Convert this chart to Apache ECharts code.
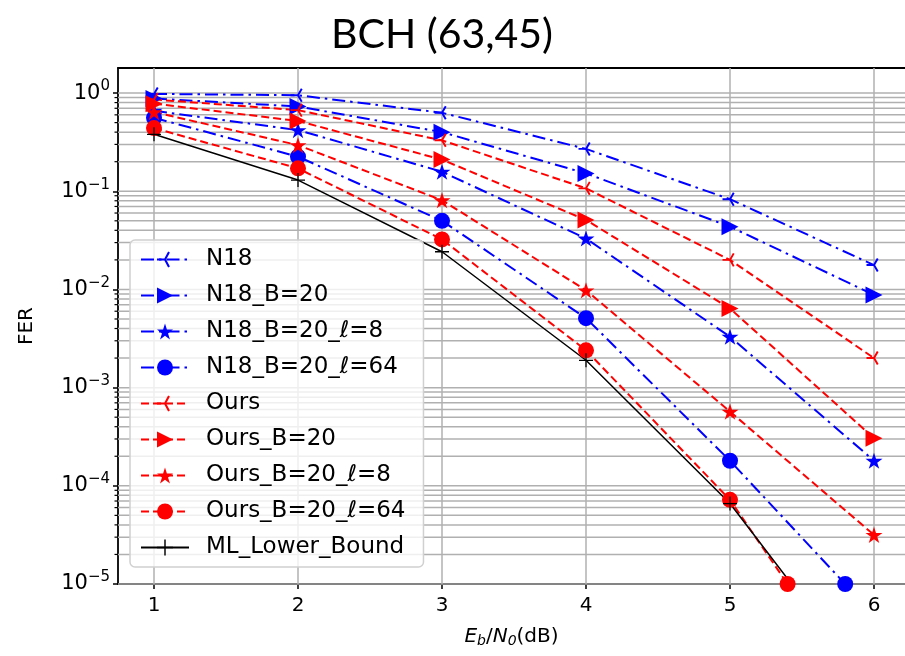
<!DOCTYPE html>
<html>
<head>
<meta charset="utf-8">
<script src="https://cdn.jsdelivr.net/npm/echarts@6/dist/echarts.min.js"></script>
<style>
  html, body { margin: 0; padding: 0; background: #fff; }
  #chart { width: 905px; height: 656px; }
</style>
</head>
<body>
<div id="chart"></div>
<script>
// Eb/N0 sweep (dB)
const ebn0 = [1, 2, 3, 4, 5, 6];
// curves that reach the FER floor early end at their last simulated point
const ebn0L64N18 = [1, 2, 3, 4, 5, 5.8];
const ebn0L64Ours = [1, 2, 3, 4, 5, 5.4];

// frame error rates
const n18 = [0.98, 0.95, 0.63, 0.27, 0.083, 0.0177];
const n18B20 = [0.88, 0.73, 0.40, 0.152, 0.0436, 0.0088];
const n18B20L8 = [0.66, 0.42, 0.158, 0.033, 0.0033, 0.00018];
const n18B20L64 = [0.56, 0.225, 0.050, 0.0051, 0.00018, 0.00001];
const ours = [0.86, 0.67, 0.33, 0.107, 0.020, 0.0020];
const oursB20 = [0.78, 0.52, 0.21, 0.051, 0.0064, 0.000305];
const oursB20L8 = [0.64, 0.295, 0.081, 0.0098, 0.00057, 0.0000316];
const oursB20L64 = [0.44, 0.171, 0.0323, 0.0024, 0.000072, 0.00001];
const mlLowerBound = [0.38, 0.13, 0.0242, 0.0019, 0.000066, 0.0000008];

// axis ticks
const xTicks = [1, 2, 3, 4, 5, 6];
const yMajorTicks = [1e-5, 1e-4, 1e-3, 1e-2, 1e-1, 1];
const yMinorTicks = [];
for (let d = -5; d <= -1; d++) {
  for (let m = 2; m <= 9; m++) yMinorTicks.push(m * Math.pow(10, d));
}

const BLUE = '#0000ff';
const RED = '#ff0000';
const GRID = '#b0b0b0';
const FONT = 'DejaVu Sans';

// marker shapes (20x20 design box, centred at 10,10)
function polyPath(pts) {
  return 'M' + pts.map(p => p[0].toFixed(2) + ' ' + p[1].toFixed(2)).join(' L') + ' Z';
}
function starPath() {
  const pts = [];
  for (let i = 0; i < 10; i++) {
    const r = i % 2 === 0 ? 10 : 3.82;
    const a = -Math.PI / 2 + i * Math.PI / 5;
    pts.push([10 + r * Math.cos(a), 10 + r * Math.sin(a)]);
  }
  return 'path://' + polyPath(pts);
}
function spoke(angleDeg, len, half) {
  const a = angleDeg * Math.PI / 180;
  const dx = Math.cos(a), dy = -Math.sin(a);
  const nx = -dy * half, ny = dx * half;
  const ex = 10 + dx * len, ey = 10 + dy * len;
  return polyPath([[10 + nx, 10 + ny], [ex + nx, ey + ny], [ex - nx, ey - ny], [10 - nx, 10 - ny]]);
}
function triLeftPath() {
  const h = 1.3;
  return 'path://' + spoke(180, 10, h) + ' ' + spoke(60, 10, h) + ' ' + spoke(-60, 10, h) +
    ' M19.95 9.95 L20 9.95 L20 10.05 L19.95 10.05 Z';
}
function plusPath() {
  return 'path://M9.1 0 L10.9 0 L10.9 20 L9.1 20 Z M0 9.1 L20 9.1 L20 10.9 L0 10.9 Z';
}
const STAR = starPath();
const TRI = triLeftPath();
const PLUS = plusPath();

const DASHDOT = [13, 5, 2.5, 5];
const DASHED = [8, 4];

function pairs(xs, ys) { return xs.map((x, i) => [x, ys[i]]); }

function curve(name, xs, ys, color, dash, symbol, size, rotate) {
  return {
    name: name,
    type: 'line',
    data: pairs(xs, ys),
    symbol: symbol,
    symbolSize: size,
    symbolRotate: rotate || 0,
    symbolKeepAspect: true,
    showAllSymbol: true,
    clip: true,
    z: 3,
    lineStyle: { color: color, width: 2, type: dash },
    itemStyle: { color: color, borderWidth: 0 },
    emphasis: { disabled: true }
  };
}

const chart = echarts.init(document.getElementById('chart'), null, { renderer: 'canvas' });

const supMinus = e => (e < 0 ? '\u2212' + (-e) : '' + e);

// plot area runs from Eb/N0 = 0.75 to 6.25; the right part falls past the canvas edge
const X_MIN = 0.75;
const PX_PER_DB = 144;
const PLOT_LEFT = 118;
const PLOT_W = 905 - PLOT_LEFT;

chart.setOption({
  animation: false,
  backgroundColor: '#fff',
  title: {
    text: 'BCH (63,45)',
    left: 437,
    textAlign: 'center',
    top: 9,
    textStyle: { fontFamily: 'Lato', fontSize: 41, fontWeight: 'normal', color: '#000' }
  },
  grid: {
    left: PLOT_LEFT, top: 68, width: PLOT_W, height: 516,
    show: false
  },
  legend: {
    orient: 'vertical',
    left: 130, top: 240,
    padding: [8, 18, 8, 10],
    itemWidth: 48, itemHeight: 20, itemGap: 13,
    backgroundColor: 'rgba(255,255,255,0.8)',
    borderColor: '#d0d0d0', borderWidth: 1.5, borderRadius: 5,
    textStyle: { fontFamily: FONT, fontSize: 23, color: '#000', padding: [0, 0, 0, 12] },
    data: ['N18', 'N18_B=20', 'N18_B=20_\u2113=8', 'N18_B=20_\u2113=64',
           'Ours', 'Ours_B=20', 'Ours_B=20_\u2113=8', 'Ours_B=20_\u2113=64', 'ML_Lower_Bound']
  },
  xAxis: [{
    type: 'value', min: X_MIN, max: X_MIN + PLOT_W / PX_PER_DB,
    name: '{i|E}{sub|b}{n|/}{i|N}{sub|0}{n|(dB)}',
    nameLocation: 'middle', nameGap: 41,
    nameTextStyle: {
      rich: {
        i: { fontFamily: FONT, fontStyle: 'italic', fontSize: 20, color: '#000' },
        sub: { fontFamily: FONT, fontStyle: 'italic', fontSize: 14, color: '#000', padding: [9, 0, 0, 0] },
        n: { fontFamily: FONT, fontSize: 20, color: '#000' }
      }
    },
    axisLine: { show: true, lineStyle: { color: '#000', width: 1.8 } },
    axisTick: { show: true, customValues: xTicks, length: 5, lineStyle: { color: '#000', width: 1.5 } },
    axisLabel: { customValues: xTicks, fontFamily: FONT, fontSize: 20, color: '#000', margin: 12 },
    splitLine: { show: false }
  }, {
    // top spine
    type: 'value', position: 'top', min: X_MIN, max: X_MIN + PLOT_W / PX_PER_DB,
    axisLine: { show: true, lineStyle: { color: '#000', width: 1.8 } },
    axisTick: { show: false }, axisLabel: { show: false }, splitLine: { show: false }
  }],
  yAxis: {
    type: 'log', min: 1e-5, max: 1.8, logBase: 10,
    name: 'FER', nameLocation: 'middle', nameGap: 81, nameRotate: 90,
    nameTextStyle: { fontFamily: FONT, fontSize: 20, color: '#000' },
    axisLine: { show: true, lineStyle: { color: '#000', width: 1.8 } },
    axisTick: { show: true, customValues: yMajorTicks, length: 5, lineStyle: { color: '#000', width: 1.5 } },
    axisLabel: {
      customValues: yMajorTicks,
      margin: 8,
      formatter: v => '{b|10}{s|' + supMinus(Math.round(Math.log10(v))) + '}',
      rich: {
        b: { fontFamily: FONT, fontSize: 21, color: '#000' },
        s: { fontFamily: FONT, fontSize: 15, color: '#000', padding: [0, 0, 13, 0] }
      }
    },
    splitLine: { show: false },
    minorSplitLine: { show: false }
  },
  series: [
    // horizontal grid lines (major + minor) and minor ticks on the FER axis
    {
      type: 'custom', silent: true, z: 1,
      data: yMajorTicks.map(v => [1, v, 1]).concat(yMinorTicks.map(v => [1, v, 0])),
      renderItem: (params, api) => {
        const cs = params.coordSys;
        const y = api.coord([api.value(0), api.value(1)])[1];
        const children = [{
          type: 'line',
          shape: { x1: cs.x, y1: y, x2: cs.x + cs.width, y2: y },
          style: { stroke: GRID, lineWidth: 1.5 }
        }];
        if (api.value(2) === 0) {
          children.push({
            type: 'line',
            shape: { x1: cs.x - 3.5, y1: y, x2: cs.x, y2: y },
            style: { stroke: '#000', lineWidth: 1.2 }
          });
        }
        return { type: 'group', children: children };
      }
    },
    // vertical grid lines
    {
      type: 'custom', silent: true, z: 1,
      data: xTicks.map(x => [x, 1]),
      renderItem: (params, api) => {
        const cs = params.coordSys;
        const x = api.coord([api.value(0), api.value(1)])[0];
        return {
          type: 'line',
          shape: { x1: x, y1: cs.y, x2: x, y2: cs.y + cs.height },
          style: { stroke: GRID, lineWidth: 1.5 }
        };
      }
    },
    curve('N18', ebn0, n18, BLUE, DASHDOT, TRI, 15),
    curve('N18_B=20', ebn0, n18B20, BLUE, DASHDOT, 'triangle', 17, -90),
    curve('N18_B=20_\u2113=8', ebn0, n18B20L8, BLUE, DASHDOT, STAR, 17),
    curve('N18_B=20_\u2113=64', ebn0L64N18, n18B20L64, BLUE, DASHDOT, 'circle', 16),
    curve('Ours', ebn0, ours, RED, DASHED, TRI, 15),
    curve('Ours_B=20', ebn0, oursB20, RED, DASHED, 'triangle', 17, -90),
    curve('Ours_B=20_\u2113=8', ebn0, oursB20L8, RED, DASHED, STAR, 17),
    curve('Ours_B=20_\u2113=64', ebn0L64Ours, oursB20L64, RED, DASHED, 'circle', 16),
    (() => {
      const s = curve('ML_Lower_Bound', ebn0, mlLowerBound, '#000', 'solid', PLUS, 14);
      s.lineStyle.width = 1.5;
      return s;
    })()
  ]
});
</script>
</body>
</html>
